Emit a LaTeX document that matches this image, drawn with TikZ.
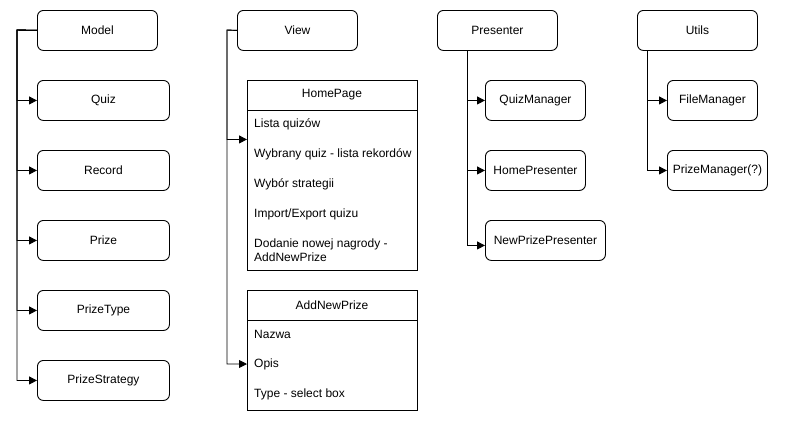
\documentclass[tikz,border=0pt]{standalone}
\usepackage{fontspec}
\setmainfont{Liberation Sans}
\usetikzlibrary{arrows.meta,positioning,calc}
\begin{document}
\begin{tikzpicture}[x=1pt,y=-1pt,
  every node/.style={font=\fontsize{12}{14.5}\selectfont},
  rbox/.style={draw,rounded corners=6pt,line width=0.9pt,anchor=north west,inner sep=0pt,minimum height=40pt,align=center},
  cbox/.style={draw,line width=0.9pt,anchor=north west,inner sep=0pt,minimum width=170pt},
  row/.style={anchor=west,inner sep=0pt,align=left},
  conn/.style={line width=0.9pt,-{Triangle[length=8pt,width=8pt]}},
]
\useasboundingbox (0,0) rectangle (788,421);
% Model column
\node[rbox,minimum width=120pt] (model) at (37,10) {Model};
\node[rbox,minimum width=132pt] (quiz) at (37,80) {Quiz};
\node[rbox,minimum width=132pt] (record) at (37,150) {Record};
\node[rbox,minimum width=132pt] (prize) at (37,220) {Prize};
\node[rbox,minimum width=132pt] (ptype) at (37,290) {PrizeType};
\node[rbox,minimum width=132pt] (pstrat) at (37,360) {PrizeStrategy};
\coordinate (mbus) at (17,30);
\foreach \t in {quiz,record,prize,ptype,pstrat}
  \draw[conn] (model.west) -- (mbus) |- (\t.west);
% View column
\node[rbox,minimum width=120pt] (view) at (237,10) {View};
\node[cbox,minimum height=190pt] (hp) at (247,80) {};
\node[anchor=center] (hpt) at (332,95) {HomePage};
\draw[line width=0.9pt] ([yshift=-30pt]hp.north west) -- ([yshift=-30pt]hp.north east);
\node[row] (r1) at (254,124) {Lista quizów};
\node[row] (r2) at (254,154) {Wybrany quiz - lista rekordów};
\node[row] (r3) at (254,184) {Wybór strategii};
\node[row] (r4) at (254,214) {Import/Export quizu};
\node[row] (r5) at (254,250) {Dodanie nowej nagrody -\\AddNewPrize};
\node[cbox,minimum height=120pt] (anp) at (247,290) {};
\node[anchor=center] (anpt) at (332,305) {AddNewPrize};
\draw[line width=0.9pt] ([yshift=-30pt]anp.north west) -- ([yshift=-30pt]anp.north east);
\node[row] (a1) at (254,334) {Nazwa};
\node[row] (a2) at (254,364) {Opis};
\node[row] (a3) at (254,394) {Type - select box};
\coordinate (vbus) at (227,30);
\draw[conn] (view.west) -- (vbus) |- ([yshift=36pt]hp.west);
\draw[conn] (view.west) -- (vbus) |- (anp.west |- a2);
% Presenter column
\node[rbox,minimum width=120pt] (pres) at (437,10) {Presenter};
\node[rbox,minimum width=100pt] (qm) at (485,80) {QuizManager};
\node[rbox,minimum width=100pt] (hpres) at (485,150) {HomePresenter};
\node[rbox,minimum width=120pt] (npp) at (485,220) {NewPrizePresenter};
\coordinate (pbus) at ([xshift=-30pt]pres.south);
\draw[conn] (pbus) |- (qm.west);
\draw[conn] (pbus) |- (hpres.west);
\draw[conn] (pbus) |- ([yshift=-5pt]npp.west);
% Utils column
\node[rbox,minimum width=120pt] (utils) at (637,10) {Utils};
\node[rbox,minimum width=90pt] (fm) at (667,80) {FileManager};
\node[rbox,minimum width=100pt] (pm) at (667,150) {PrizeManager(?)};
\coordinate (ubus) at ([xshift=-50pt]utils.south);
\draw[conn] (ubus) |- (fm.west);
\draw[conn] (ubus) |- (pm.west);
\end{tikzpicture}
\end{document}
